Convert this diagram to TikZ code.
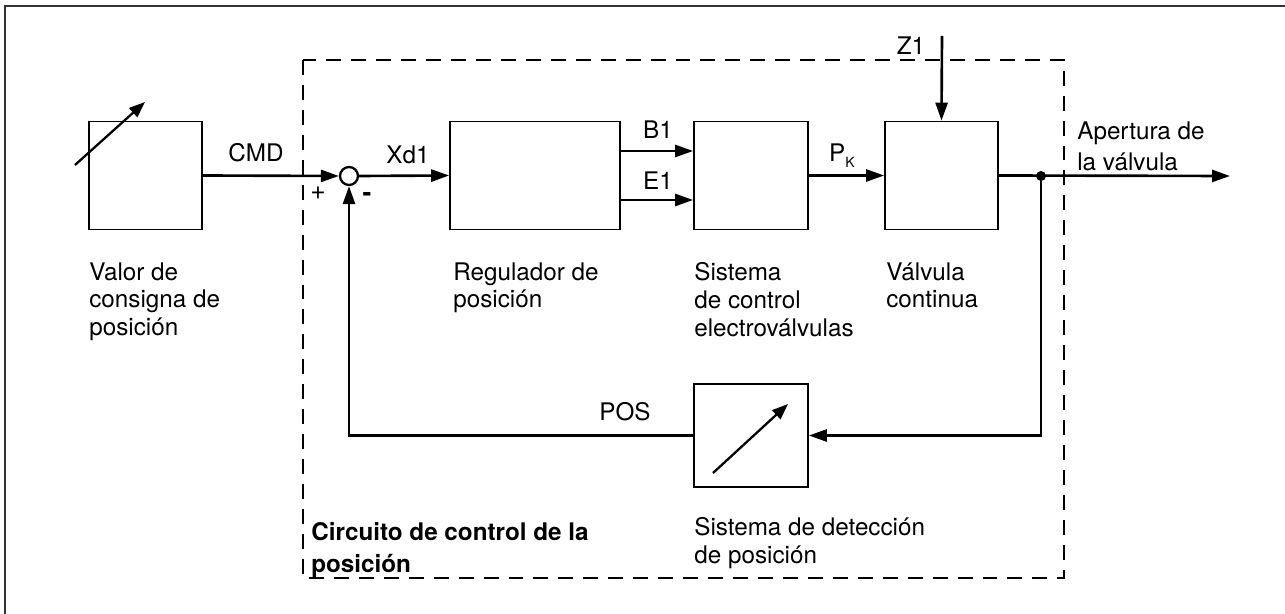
\documentclass[tikz,border=0pt]{standalone}
\usepackage{fontspec}
\setmainfont{TeX Gyre Heros}
\usetikzlibrary{arrows.meta}

\newcommand{\fuenteetiq}{\fontsize{13.8}{15.9}\selectfont}

\tikzset{
  bloque/.style={draw, line width=1pt, minimum width=2.26cm, minimum height=2.16cm, inner sep=0pt},
  senal/.style={line width=1.5pt, -{Triangle[length=0.36cm, width=0.24cm]}},
  etiq/.style={font=\fuenteetiq, inner sep=0pt},
  texto/.style={font=\fuenteetiq, align=left, anchor=north west, inner sep=0pt},
}

\begin{document}
\begin{tikzpicture}[x=0.02cm, y=-0.02cm]
  \useasboundingbox (0,0) rectangle (1285,614);

  % Marco exterior
  \draw[line width=1.1pt, black!80] (1285,6) -- (5,6) -- (5,614);

  % Circuito de control (recuadro discontinuo)
  \draw[line width=1.4pt, dash pattern=on 8.5pt off 5.7pt] (303,60) rectangle (1064,578);

  % Bloques
  \node[bloque] (consigna) at (145.5,175.5) {};
  \node[bloque, minimum width=3.4cm] (regulador) at (535,175.5) {};
  \node[bloque, minimum width=2.28cm] (electrov) at (751,175.5) {};
  \node[bloque] (valvula) at (941.5,175.5) {};
  \node[bloque, minimum width=2.28cm, minimum height=2.06cm] (deteccion) at (751,435.5) {};
  \node[draw, circle, line width=1.3pt, minimum size=0.36cm, inner sep=0pt] (suma) at (349,176) {};

  % Flechas de ajuste dentro de los bloques
  \draw[line width=1.3pt, -{Triangle[length=0.32cm, width=0.24cm]}] (75,165) -- (145,102);
  \draw[line width=1.3pt, -{Triangle[length=0.32cm, width=0.24cm]}] (713,473) -- (788,404);

  % Puntos auxiliares
  \coordinate (z1) at (942,36);
  \coordinate (salida) at (1230,176);
  \coordinate (derivacion) at (1041,176);

  % Señales
  \draw[senal] (consigna.east) -- (suma.west);
  \draw[senal] (suma.east) -- (regulador.west);
  \draw[senal] ([yshift=0.49cm]regulador.east) -- ([yshift=0.49cm]electrov.west);
  \draw[senal] ([yshift=-0.49cm]regulador.east) -- ([yshift=-0.49cm]electrov.west);
  \draw[senal] (electrov.east) -- (valvula.west);
  \draw[senal] (z1) -- (valvula.north);
  \draw[senal] (valvula.east) -- (salida);
  \draw[senal] (derivacion) |- (deteccion.east);
  \draw[senal] (deteccion.west) -| (suma.south);
  \fill (derivacion) circle (5);

  % Etiquetas de las señales
  \node[etiq] (cmd) at (256,153) {CMD};
  \node[etiq] (xd1) at (408,155) {Xd1};
  \node[etiq] (b1) at (658,130) {B1};
  \node[etiq] (e1) at (658,181) {E1};
  \node[etiq] (pk) at (842,156) {P\raisebox{-0.45ex}{\fontsize{8}{8}\selectfont K}};
  \node[etiq] (z1txt) at (911,46) {Z1};
  \node[etiq] (pos) at (625,412) {POS};
  \node[etiq, font=\fontsize{15}{15}\selectfont] (mas) at (318,193) {+};
  \node[etiq, font=\fontsize{15}{15}\selectfont\bfseries] (menos) at (367,197) {-};
  \node[texto, font=\fontsize{13.8}{18}\selectfont] (apertura) at (1077,121) {Apertura de\\la válvula};

  % Textos de los bloques
  \node[texto] (txtconsigna) at (89,262) {Valor de\\consigna de\\posición};
  \node[texto] (txtregulador) at (453,262) {Regulador de\\posición};
  \node[texto] (txtelectrov) at (694,262) {Sistema\\de control\\electroválvulas};
  \node[texto] (txtvalvula) at (886,262) {Válvula\\continua};
  \node[texto] (txtdeteccion) at (694,517) {Sistema de detección\\de posición};
  \node[texto, font=\fontsize{13.8}{18.5}\selectfont\bfseries] (circuito) at (311,522) {Circuito de control de la\\posición};
\end{tikzpicture}
\end{document}
